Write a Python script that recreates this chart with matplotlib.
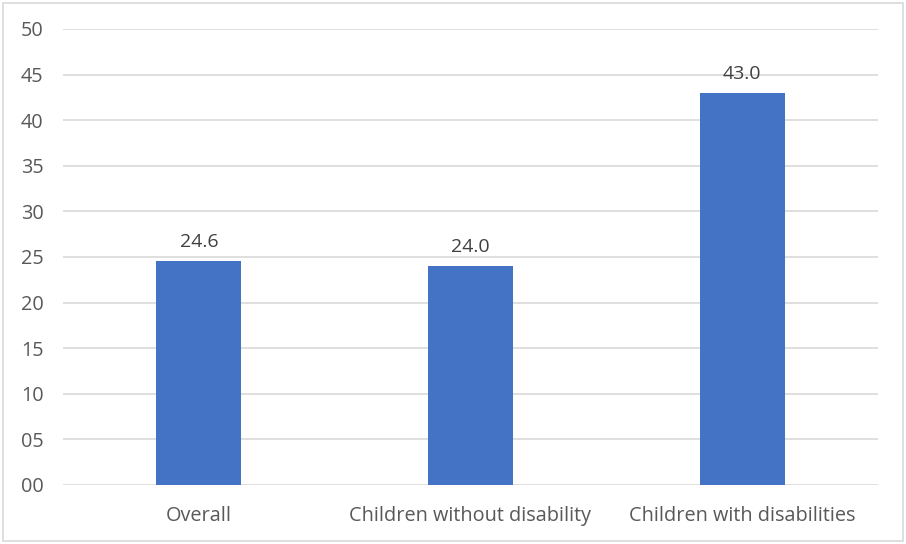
import matplotlib
matplotlib.use("Agg")
import matplotlib.pyplot as plt
from matplotlib.patches import Rectangle
from matplotlib.ticker import FuncFormatter

categories = ["Overall", "Children without disability", "Children with disabilities"]
values = [24.6, 24.0, 43.0]
yticks = [0, 5, 10, 15, 20, 25, 30, 35, 40, 45, 50]

plt.rcParams['font.family'] = ['Open Sans', 'DejaVu Sans']
text_color = "#595959"

fig = plt.figure(figsize=(9.06, 5.44), dpi=100)
ax = fig.add_axes([63/906, 1 - 485/544, (878 - 63)/906, (485 - 29)/544])

x = list(range(len(categories)))
bars = ax.bar(x, values, width=0.313, color="#4472C4", zorder=3)
for xi, v in zip(x, values):
    ax.text(xi, v + 1.1, f"{v:.1f}", ha="center", va="bottom", fontsize=14, color="#404040")

ax.set_xlim(-0.5, len(categories) - 0.5)
ax.set_ylim(0, 50)
ax.set_yticks(yticks)
ax.yaxis.set_major_formatter(FuncFormatter(lambda v, p: f"{int(v):02d}"))
ax.set_xticks(x)
ax.set_xticklabels(categories)
ax.grid(axis="y", color="#D9D9D9", linewidth=1.2, zorder=0)
for s in ax.spines.values():
    s.set_visible(False)
ax.tick_params(axis="both", length=0, labelsize=14.3, colors=text_color)
ax.tick_params(axis="y", pad=14)
ax.tick_params(axis="x", pad=15)

fig.patches.append(Rectangle((3/906, 3/544), 900/906, 538/544, transform=fig.transFigure,
                             fill=False, edgecolor="#D9D9D9", linewidth=1.2))
fig.savefig("out.png", dpi=100)
